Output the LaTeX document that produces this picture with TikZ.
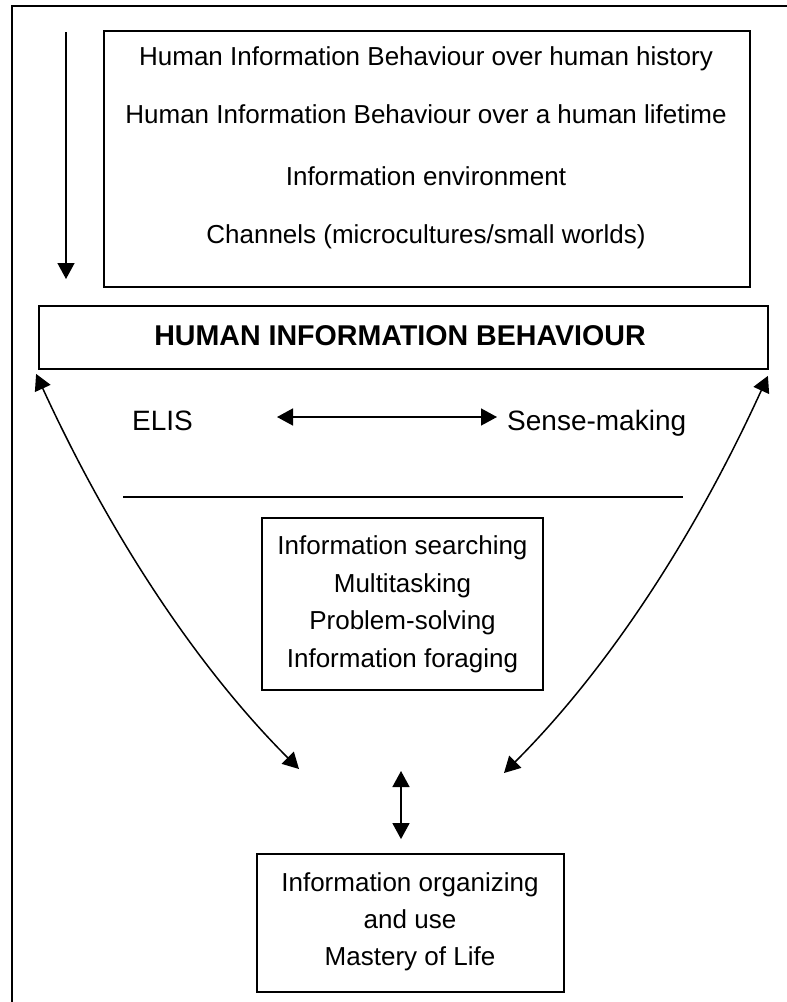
\documentclass[tikz,border=0pt]{standalone}
\usepackage{fontspec}
\setmainfont{Liberation Sans}
\usetikzlibrary{arrows.meta,calc}
\begin{document}
\begin{tikzpicture}[x=1pt,y=-1pt,
  frameline/.style={line width=1.4pt},
  boxnode/.style={draw,line width=1.8pt,inner sep=0pt},
  txt/.style={inner sep=0pt,anchor=base,font=\fontsize{26}{31}\selectfont},
  bigtxt/.style={inner sep=0pt,anchor=base west,font=\fontsize{28}{33}\selectfont},
  titletxt/.style={inner sep=0pt,anchor=base,font=\fontsize{28.6}{34}\selectfont\bfseries},
  headtip/.tip={Triangle[length=16pt,width=17pt]},
  arr/.style={line width=1.5pt,-headtip},
  dbl/.style={line width=1.5pt,headtip-headtip}
]
\useasboundingbox (0,0) rectangle (787,1002);

% outer frame (left and top edges only)
\draw[frameline] (12,1002) -- (12,6) -- (787,6);

% context box with its four levels
\node[boxnode,minimum width=646pt,minimum height=256pt] (ctx) at (427,159) {};
\node[txt] (c1) at (426,65)  {Human Information Behaviour over human history};
\node[txt] (c2) at (426,123) {Human Information Behaviour over a human lifetime};
\node[txt] (c3) at (426,185) {Information environment};
\node[txt] (c4) at (426,243) {Channels (microcultures/small worlds)};

% downward arrow beside the context box
\coordinate (dtop) at (66,32);
\coordinate (dbot) at (66,279);
\draw[arr] (dtop) -- (dbot);

% main title bar
\node[boxnode,minimum width=729pt,minimum height=63pt] (hib) at (403.5,337.5) {};
\node[titletxt] (hibt) at (400,345) {HUMAN INFORMATION BEHAVIOUR};

% ELIS and Sense-making
\node[bigtxt] (elis) at (132,430) {ELIS};
\node[bigtxt] (sense) at (507,430) {Sense-making};
\coordinate (el) at (277,417);
\coordinate (sr) at (497,417);
\draw[dbl] (el) -- (sr);

% separator
\coordinate (sepl) at (123,497);
\coordinate (sepr) at (683,497);
\draw[line width=1.5pt] (sepl) -- (sepr);

% activities box
\node[boxnode,minimum width=281pt,minimum height=172pt] (act) at (402.5,604) {};
\node[txt] (a1) at (402.5,554) {Information searching};
\node[txt] (a2) at (402.5,592) {Multitasking};
\node[txt] (a3) at (402.5,629) {Problem-solving};
\node[txt] (a4) at (402.5,667) {Information foraging};

% outcome box
\node[boxnode,minimum width=307pt,minimum height=138pt] (out) at (410.5,923) {};
\node[txt] (o1) at (410,891) {Information organizing};
\node[txt] (o2) at (410,928) {and use};
\node[txt] (o3) at (410,965) {Mastery of Life};

% curved links from the title bar down to the outcome
\coordinate (jl) at (299,769);
\coordinate (jr) at (504,773);
\draw[dbl] ($(hib.south west)+(-2,4)$) .. controls (110,535) and (197,667) .. (jl);
\draw[dbl] ($(hib.south east)+(-1,6)$) .. controls (694,538) and (607,670) .. (jr);

% link into the outcome box
\coordinate (jm) at (401,771);
\draw[dbl] (jm) -- ($(out.north)+(-9.5,-14)$);
\end{tikzpicture}
\end{document}
